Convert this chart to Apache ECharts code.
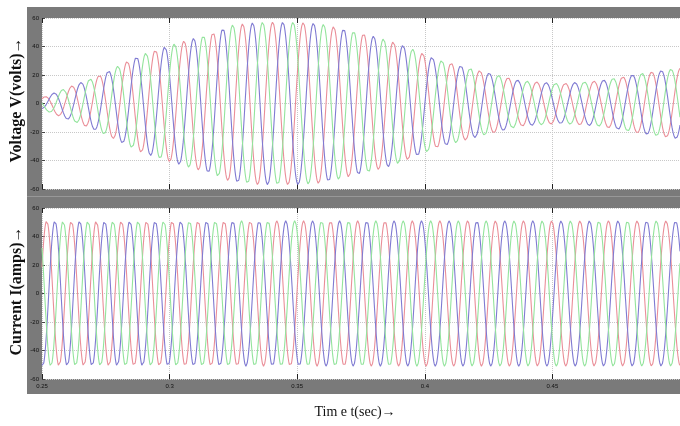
<!DOCTYPE html>
<html>
<head>
<meta charset="utf-8">
<script src="https://cdn.jsdelivr.net/npm/echarts@6/dist/echarts.min.js"></script>
<style>
html,body{margin:0;padding:0;background:#fff;}
#chart{width:680px;height:426px;}
</style>
</head>
<body>
<div id="chart"></div>
<script>
// ---- data ----
const timeTicks = [0.25, 0.3, 0.35, 0.4, 0.45, 0.5];
const valueTicks = [-60, -40, -20, 0, 20, 40, 60];
const phaseNames = ['Phase A', 'Phase B', 'Phase C'];
const phaseShiftDeg = [0, -120, -240];
const phaseColors = ['#ea8e98', '#7f7ad2', '#93e49c'];

// voltage envelope (peak value of the phase voltages) at time points
const voltageEnvTime = [0.25, 0.257, 0.2727, 0.2884, 0.3002, 0.31, 0.316, 0.324, 0.335, 0.35, 0.359, 0.3668, 0.3785, 0.3864, 0.39, 0.405, 0.4216, 0.4373, 0.453, 0.4687, 0.4843, 0.496, 0.5];
const voltageEnvAmp  = [4, 9, 20, 34, 41, 46, 49, 55, 57, 57, 56, 53, 48, 44, 42, 31, 23, 16, 14, 16, 21, 24, 25];
// local frequency of the voltage (Hz), estimated from peak spacing
const voltageFreqTime = [0.25, 0.35, 0.42, 0.5];
const voltageFreq     = [95, 83, 90, 88];

// current: constant peak value, local frequency
const currentAmpTime = [0.25, 0.5];
const currentAmp     = [51, 51];
const currentFreqTime = [0.25, 0.35, 0.5];
const currentFreq     = [104, 95, 88];

// ---- build series ----
function interp(ts, vs, t) {
  if (t <= ts[0]) return vs[0];
  for (let i = 1; i < ts.length; i++) {
    if (t <= ts[i]) {
      const r = (t - ts[i-1]) / (ts[i] - ts[i-1]);
      return vs[i-1] + r * (vs[i] - vs[i-1]);
    }
  }
  return vs[vs.length - 1];
}
function wave(envT, envA, fT, fV, phase0) {
  const t0 = timeTicks[0], t1 = timeTicks[timeTicks.length - 1];
  const n = 2500, dt = (t1 - t0) / n;
  const out = phaseShiftDeg.map(() => []);
  let ph = phase0;
  for (let i = 0; i <= n; i++) {
    const t = t0 + i * dt;
    const a = interp(envT, envA, t);
    phaseShiftDeg.forEach((d, k) => {
      out[k].push([t, a * Math.cos(ph + d * Math.PI / 180)]);
    });
    ph += 2 * Math.PI * interp(fT, fV, t) * dt;
  }
  return out;
}
const vData = wave(voltageEnvTime, voltageEnvAmp, voltageFreqTime, voltageFreq, -0.6);
const iData = wave(currentAmpTime, currentAmp, currentFreqTime, currentFreq, -1.2);

const series = [];
[vData, iData].forEach((set, g) => {
  set.forEach((d, k) => {
    series.push({
      name: phaseNames[k], type: 'line', xAxisIndex: g * 2, yAxisIndex: g,
      data: d, showSymbol: false, sampling: 'none', silent: true,
      lineStyle: { color: phaseColors[k], width: 1.1 }, z: 3
    });
  });
});

function xAx(grid, pos, labels) {
  return {
    type: 'value', gridIndex: grid, position: pos,
    min: timeTicks[0], max: timeTicks[timeTicks.length - 1], interval: 0.05,
    axisLine: { show: false, onZero: false },
    axisTick: { show: true, inside: true, length: 5, lineStyle: { color: '#222', width: 1 } },
    axisLabel: labels ? { show: true, fontSize: 6, color: '#111', margin: 4, showMaxLabel: false,
      formatter: v => String(+v.toFixed(2)) } : { show: false },
    splitLine: { show: pos === 'bottom', lineStyle: { color: '#c8c8c8', type: 'dotted', width: 1 } }
  };
}
function yAx(grid) {
  return {
    type: 'value', gridIndex: grid, min: valueTicks[0], max: valueTicks[valueTicks.length - 1], interval: 20,
    axisLine: { show: false, onZero: false },
    axisTick: { show: true, inside: true, length: 3, lineStyle: { color: '#444' } },
    axisLabel: { fontSize: 6, color: '#111', margin: 3 },
    splitLine: { show: true, lineStyle: { color: '#c8c8c8', type: 'dotted', width: 1 } }
  };
}

const chart = echarts.init(document.getElementById('chart'), null, { renderer: 'canvas' });
chart.setOption({
  animation: false,
  backgroundColor: '#fff',
  graphic: [
    { type: 'rect', z: -10, shape: { x: 27, y: 7, width: 653, height: 387 }, style: { fill: '#7a7a7a' } },
    { type: 'rect', z: -9, shape: { x: 27, y: 196, width: 653, height: 1 }, style: { fill: '#989898' } },
    { type: 'text', x: 17, y: 100, rotation: Math.PI / 2,
      style: { text: 'Voltage V(volts)\u2192', font: 'bold 16px "Liberation Serif"', fill: '#111',
        textAlign: 'center', textVerticalAlign: 'middle', align: 'center', verticalAlign: 'middle' } },
    { type: 'text', x: 17, y: 291, rotation: Math.PI / 2,
      style: { text: 'Current I(amps)\u2192', font: 'bold 16px "Liberation Serif"', fill: '#111',
        textAlign: 'center', textVerticalAlign: 'middle', align: 'center', verticalAlign: 'middle' } },
    { type: 'text', x: 355, y: 412,
      style: { text: 'Tim e t(sec)\u2192', font: '14px "Liberation Serif"', fill: '#111',
        textAlign: 'center', textVerticalAlign: 'middle', align: 'center', verticalAlign: 'middle' } }
  ],
  grid: [
    { left: 42, top: 18, width: 638, height: 171, show: true, backgroundColor: '#ffffff', borderWidth: 0 },
    { left: 42, top: 208, width: 638, height: 171, show: true, backgroundColor: '#ffffff', borderWidth: 0 }
  ],
  xAxis: [xAx(0, 'bottom', false), xAx(0, 'top', false), xAx(1, 'bottom', true), xAx(1, 'top', false)],
  yAxis: [yAx(0), yAx(1)],
  series: series
});
</script>
</body>
</html>
